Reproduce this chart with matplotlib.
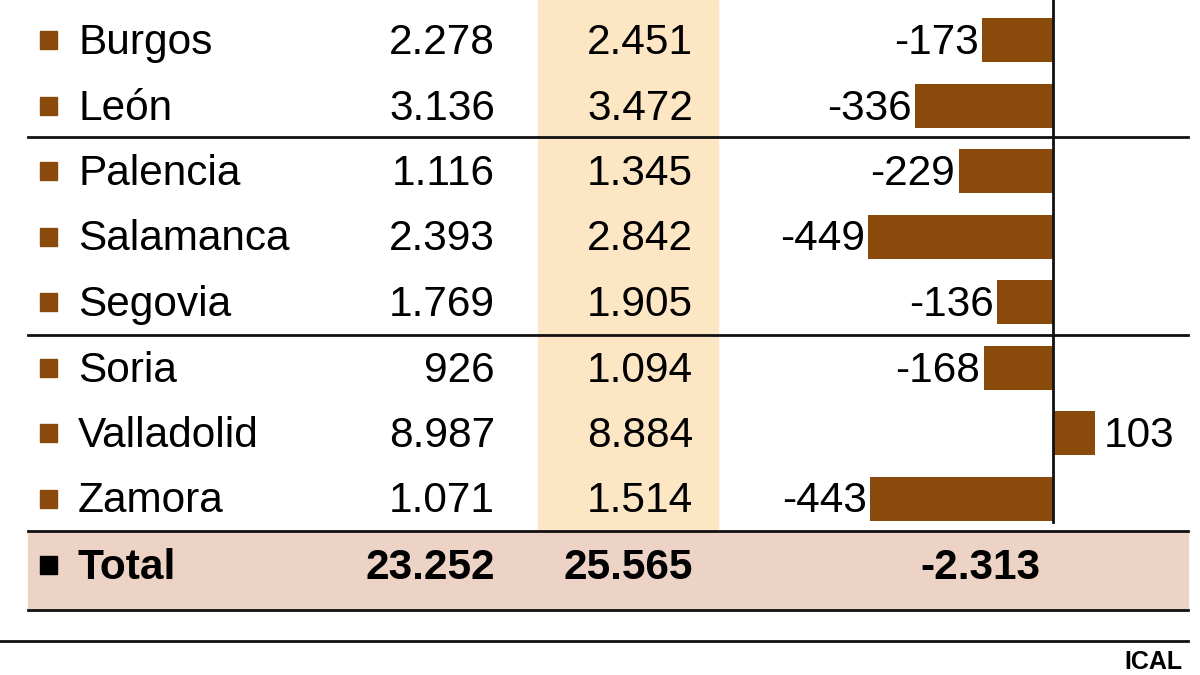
import matplotlib.pyplot as plt
from matplotlib.patches import Rectangle

provincias = ["Burgos", "León", "Palencia", "Salamanca", "Segovia",
              "Soria", "Valladolid", "Zamora"]
col_a = ["2.278", "3.136", "1.116", "2.393", "1.769", "926", "8.987", "1.071"]
col_b = ["2.451", "3.472", "1.345", "2.842", "1.905", "1.094", "8.884", "1.514"]
diferencia = [-173, -336, -229, -449, -136, -168, 103, -443]
total = ["23.252", "25.565", "-2.313"]

brown = "#8a4a0c"
plt.rcParams['font.family'] = ['Liberation Sans', 'DejaVu Sans']
fs = 30.5

W, H = 1200, 675
fig = plt.figure(figsize=(12, 6.75), dpi=100)
ax = fig.add_axes([0, 0, 1, 1])
ax.set_xlim(0, W)
ax.set_ylim(H, 0)
ax.axis("off")

row_y = [40 + 65.5 * i for i in range(len(provincias))]
total_y = 565
ty = 3  # text baseline nudge

# highlighted column and total band
ax.add_patch(Rectangle((538, 0), 180, 531, color="#fde6c4", zorder=0))
ax.add_patch(Rectangle((28, 531), 1160, 79, color="#edd3c5", zorder=0))
for y, x0 in [(137, 28), (335, 28), (531, 28), (610, 28), (641, 0)]:
    ax.plot([x0, 1188], [y, y], color="#111111", lw=2, zorder=2)

for y, name, a, b in zip(row_y, provincias, col_a, col_b):
    ax.add_patch(Rectangle((40, y - 9), 17, 18, color=brown))
    ax.text(78, y + ty, name, fontsize=fs, va="center", ha="left")
    ax.text(495, y + ty, a, fontsize=fs, va="center", ha="right")
    ax.text(693, y + ty, b, fontsize=fs, va="center", ha="right")

ax.add_patch(Rectangle((40, total_y - 9), 17, 18, color="black"))
ax.text(78, total_y + ty, "Total", fontsize=fs, va="center", ha="left", fontweight="bold")
ax.text(495, total_y + ty, total[0], fontsize=fs, va="center", ha="right", fontweight="bold")
ax.text(693, total_y + ty, total[1], fontsize=fs, va="center", ha="right", fontweight="bold")
ax.text(980, total_y + ty, total[2], fontsize=fs, va="center", ha="center", fontweight="bold")
ax.text(1182, 662, "ICAL", fontsize=18, va="center", ha="right", fontweight="bold")

# bars axis: zero at x=1053 px, 0.412 px per unit
bx0, bx1, zero_px, scale = 760, 1200, 1053, 0.412
bax = fig.add_axes([bx0 / W, 0, (bx1 - bx0) / W, 1])
bax.set_xlim(-(zero_px - bx0) / scale, (bx1 - zero_px) / scale)
bax.set_ylim(H, 0)
bax.axis("off")
bax.patch.set_alpha(0)
bax.barh(row_y, diferencia, height=44, color=brown)
bax.plot([0, 0], [0, 522], color="#111111", lw=2)
for y, v in zip(row_y, diferencia):
    if v < 0:
        bax.text(v - 8, y + ty, str(v), fontsize=fs, va="center", ha="right")
    else:
        bax.text(v + 20, y + ty, str(v), fontsize=fs, va="center", ha="left")

fig.savefig("out.png", dpi=100)
